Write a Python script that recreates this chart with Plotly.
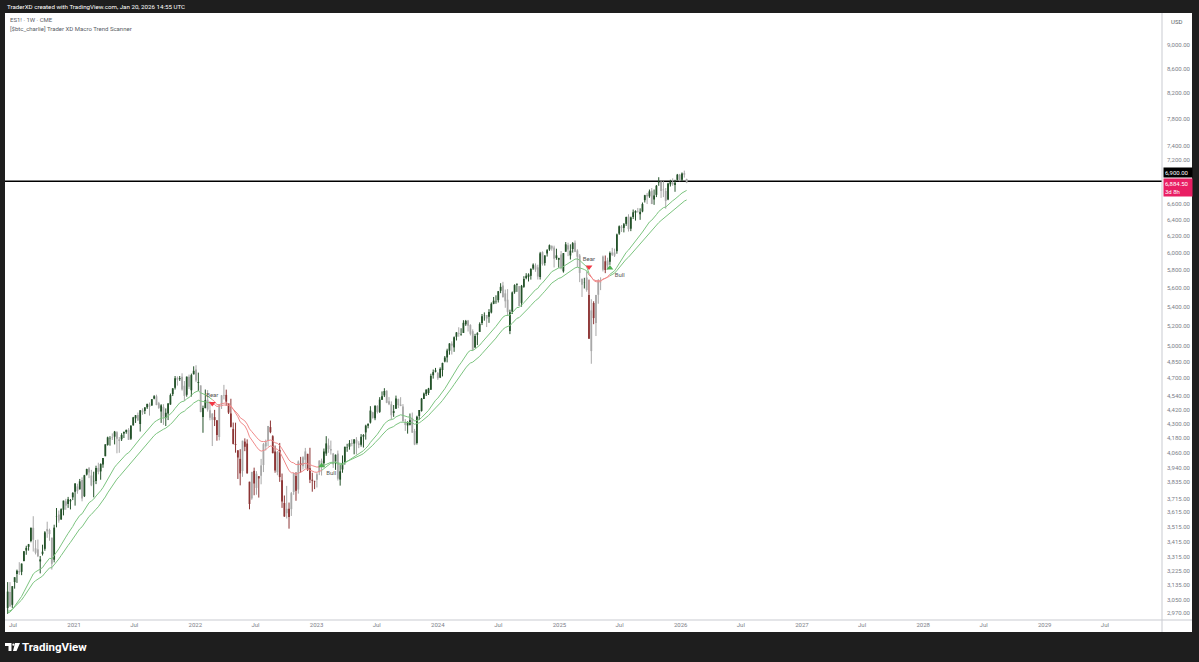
import math
import pandas as pd
import plotly.graph_objects as go

# ---------------- data (weekly ES1! bars) ----------------
first_week = "2020-06-15"

opens = [
    # 2020
    3000, 3095, 3018, 3155, 3205, 3224, 3219, 3288, 3356, 3380, 3418, 3508, 3370, 3363, 3285, 3334, 3367, 3500, 3493, 3441,
    3296, 3583, 3600, 3566, 3634, 3694, 3675, 3694, 3723,
    # 2021
    3764, 3803, 3781, 3851, 3731, 3892, 3940, 3885, 3842, 3844, 3943, 3916, 3969, 4034, 4124, 4179, 4185, 4191, 4228, 4169,
    4170, 4216, 4229, 4248, 4174, 4285, 4344, 4372, 4296, 4410, 4407, 4438, 4462, 4454, 4514, 4535, 4474, 4402, 4442, 4348,
    4385, 4463, 4554, 4610, 4701, 4689, 4712, 4629, 4548, 4710, 4588, 4733,
    # 2022
    4778, 4655, 4632, 4356, 4431, 4505, 4412, 4332, 4354, 4327, 4188, 4462, 4541, 4547, 4474, 4385, 4255, 4130, 4081, 4013,
    3919, 4151, 4135, 3838, 3715, 3920, 3792, 3880, 3883, 3965, 4112, 4155, 4270, 4195, 4071, 3910, 4084, 3849, 3682, 3609,
    3640, 3638, 3762, 3881, 3780, 3978, 3956, 4006, 4053, 3940, 3853, 3843,
    # 2023
    3853, 3910, 3999, 3979, 4055, 4120, 4091, 4055, 3992, 4055, 3854, 3931, 3983, 4102, 4110, 4140, 4135, 4166, 4136, 4126,
    4191, 4226, 4282, 4308, 4396, 4344, 4450, 4399, 4505, 4543, 4584, 4492, 4464, 4389, 4426, 4510, 4462, 4445, 4310, 4284,
    4289, 4343, 4238, 4140, 4364, 4407, 4511, 4554, 4564, 4593, 4725, 4758,
    # 2024
    4745, 4703, 4773, 4853, 4892, 4957, 5026, 4989, 5094, 5130, 5111, 5132, 5219, 5258, 5211, 5149, 4988, 5114, 5142, 5233,
    5305, 5315, 5297, 5341, 5432, 5460, 5471, 5572, 5630, 5544, 5476, 5151, 5350, 5557, 5637, 5623, 5442, 5615, 5711, 5726,
    5737, 5820, 5855, 5833, 5724, 6008, 5883, 5993, 6040, 6083, 6063, 5940, 5920,
    # 2025
    5982, 5788, 6014, 6090, 5970, 6046, 6121, 6027, 5969, 5705, 5666, 5718, 5527, 4953, 5441, 5232, 5529, 5659, 5807, 5902,
    5855, 5897, 6005, 6004, 6020, 6230, 6315, 6300, 6350, 6440, 6290, 6435, 6490, 6505, 6470, 6505, 6650, 6720, 6700, 6775,
    6660, 6720, 6880, 6890, 6790, 6770, 6660, 6860, 6880, 6850, 6920, 6990,
    # 2026
    6920, 7010, 6930,
]

highs = [
    # 2020
    3155, 3155, 3130, 3185, 3233, 3280, 3272, 3352, 3387, 3399, 3509, 3588, 3425, 3428, 3320, 3394, 3485, 3550, 3502, 3441,
    3529, 3646, 3628, 3644, 3699, 3712, 3726, 3711, 3760,
    # 2021
    3827, 3823, 3859, 3871, 3890, 3937, 3950, 3928, 3914, 3960, 3983, 3978, 4020, 4129, 4191, 4195, 4218, 4238, 4236, 4188,
    4219, 4234, 4249, 4261, 4286, 4356, 4372, 4393, 4415, 4429, 4440, 4469, 4480, 4510, 4545, 4549, 4486, 4465, 4465, 4429,
    4475, 4559, 4608, 4718, 4714, 4718, 4743, 4672, 4713, 4731, 4740, 4808,
    # 2022
    4818, 4749, 4632, 4453, 4595, 4590, 4490, 4385, 4416, 4327, 4465, 4546, 4637, 4594, 4471, 4513, 4308, 4307, 4081, 4090,
    4158, 4177, 4169, 3838, 3913, 3945, 3918, 3880, 4013, 4140, 4167, 4280, 4325, 4203, 4119, 4076, 4140, 3900, 3736, 3807,
    3685, 3762, 3905, 3911, 4001, 4029, 4034, 4100, 4053, 4101, 3906, 3846,
    # 2023
    3906, 4003, 4015, 4095, 4195, 4176, 4159, 4060, 4048, 4079, 3965, 4040, 4110, 4133, 4163, 4170, 4170, 4187, 4154, 4212,
    4212, 4290, 4300, 4448, 4400, 4458, 4456, 4527, 4578, 4607, 4588, 4527, 4490, 4458, 4541, 4514, 4527, 4466, 4338, 4319,
    4385, 4393, 4255, 4366, 4415, 4520, 4568, 4595, 4610, 4739, 4778, 4793,
    # 2024
    4755, 4798, 4842, 4906, 4976, 5030, 5048, 5097, 5140, 5189, 5179, 5261, 5264, 5264, 5220, 5168, 5123, 5139, 5239, 5325,
    5342, 5315, 5376, 5447, 5505, 5523, 5570, 5655, 5670, 5585, 5590, 5370, 5564, 5643, 5651, 5623, 5636, 5733, 5767, 5765,
    5822, 5878, 5878, 5863, 6012, 6018, 5973, 6044, 6099, 6088, 6085, 6049, 5941,
    # 2025
    6022, 5998, 6128, 6120, 6101, 6128, 6147, 6043, 5987, 5705, 5715, 5786, 5695, 5481, 5459, 5528, 5700, 5720, 5969, 5969,
    5944, 6016, 6059, 6050, 6230, 6330, 6335, 6360, 6440, 6470, 6440, 6530, 6520, 6550, 6545, 6620, 6720, 6745, 6790, 6810,
    6790, 6850, 6955, 6905, 6900, 6810, 6880, 6920, 6940, 6920, 7000, 7000,
    # 2026
    7020, 7045, 6935,
]

lows = [
    # 2020
    2965, 3005, 3000, 3115, 3150, 3200, 3198, 3285, 3328, 3355, 3410, 3349, 3330, 3313, 3209, 3323, 3354, 3440, 3420, 3233,
    3279, 3511, 3543, 3562, 3594, 3633, 3647, 3636, 3703,
    # 2021
    3663, 3749, 3781, 3694, 3725, 3885, 3865, 3805, 3723, 3820, 3894, 3853, 3944, 4034, 4118, 4118, 4164, 4128, 4057, 4061,
    4156, 4180, 4215, 4165, 4164, 4282, 4305, 4321, 4233, 4374, 4380, 4424, 4367, 4451, 4508, 4456, 4424, 4305, 4289, 4279,
    4329, 4460, 4537, 4595, 4630, 4673, 4585, 4495, 4531, 4600, 4532, 4733,
    # 2022
    4662, 4582, 4395, 4223, 4430, 4401, 4327, 4115, 4279, 4158, 4161, 4424, 4507, 4451, 4381, 4267, 4128, 4062, 3859, 3811,
    3875, 4074, 3900, 3637, 3705, 3738, 3742, 3721, 3819, 3911, 4080, 4113, 4219, 4057, 3906, 3887, 3837, 3647, 3584, 3572,
    3502, 3590, 3741, 3698, 3750, 3906, 3930, 3939, 3919, 3828, 3764, 3783,
    # 2023
    3795, 3888, 3885, 3949, 4037, 4061, 4047, 3943, 3928, 3847, 3809, 3906, 3968, 4069, 4086, 4113, 4049, 4048, 4098, 4110,
    4103, 4167, 4260, 4300, 4341, 4328, 4385, 4390, 4502, 4528, 4474, 4457, 4335, 4356, 4425, 4431, 4448, 4317, 4238, 4216,
    4284, 4223, 4122, 4127, 4329, 4401, 4511, 4537, 4546, 4593, 4694, 4751,
    # 2024
    4682, 4699, 4714, 4845, 4845, 4918, 4920, 4946, 5057, 5094, 5104, 5131, 5203, 5146, 5107, 4953, 4985, 5011, 5142, 5211,
    5256, 5191, 5234, 5331, 5428, 5433, 5446, 5546, 5497, 5390, 5306, 5120, 5325, 5540, 5560, 5406, 5402, 5604, 5698, 5674,
    5695, 5805, 5782, 5696, 5696, 5853, 5853, 5957, 6024, 6026, 5832, 5920, 5829,
    # 2025
    5809, 5773, 6014, 5962, 5923, 6003, 6009, 5837, 5667, 5505, 5597, 5562, 5074, 4832, 5220, 5101, 5433, 5579, 5786, 5767,
    5807, 5861, 5963, 5952, 5990, 6215, 6250, 6245, 6325, 6255, 6260, 6410, 6390, 6490, 6400, 6495, 6620, 6600, 6680, 6600,
    6590, 6690, 6840, 6680, 6690, 6540, 6650, 6830, 6840, 6760, 6910, 6900,
    # 2026
    6900, 6950, 6875,
]

closes = [
    # 2020
    3097, 3009, 3130, 3185, 3225, 3215, 3271, 3351, 3373, 3397, 3508, 3427, 3341, 3319, 3298, 3348, 3477, 3484, 3465, 3270,
    3509, 3585, 3558, 3638, 3699, 3663, 3709, 3703, 3756,
    # 2021
    3825, 3768, 3841, 3714, 3887, 3934, 3907, 3811, 3842, 3943, 3913, 3974, 4020, 4129, 4185, 4180, 4181, 4232, 4174, 4156,
    4204, 4230, 4247, 4166, 4281, 4352, 4370, 4327, 4412, 4395, 4437, 4468, 4442, 4509, 4535, 4458, 4433, 4455, 4357, 4391,
    4471, 4545, 4605, 4697, 4683, 4698, 4595, 4538, 4712, 4620, 4726, 4766,
    # 2022
    4677, 4663, 4398, 4432, 4501, 4419, 4349, 4385, 4329, 4204, 4463, 4543, 4546, 4488, 4393, 4272, 4132, 4123, 4024, 3901,
    4158, 4109, 3901, 3675, 3912, 3825, 3899, 3863, 3962, 4130, 4145, 4280, 4228, 4058, 3924, 4067, 3873, 3693, 3586, 3640,
    3583, 3753, 3901, 3771, 3993, 3965, 4026, 4072, 3934, 3852, 3845, 3840,
    # 2023
    3895, 3999, 3973, 4071, 4136, 4090, 4079, 3970, 4045, 3861, 3917, 3971, 4109, 4105, 4138, 4133, 4169, 4136, 4124, 4191,
    4205, 4282, 4299, 4410, 4348, 4450, 4399, 4505, 4536, 4582, 4478, 4464, 4370, 4406, 4516, 4457, 4450, 4320, 4288, 4308,
    4327, 4224, 4127, 4358, 4415, 4514, 4559, 4595, 4604, 4719, 4754, 4770,
    # 2024
    4697, 4784, 4840, 4891, 4959, 5027, 5006, 5089, 5137, 5124, 5117, 5234, 5254, 5204, 5123, 4967, 5100, 5128, 5223, 5303,
    5305, 5278, 5347, 5432, 5465, 5460, 5567, 5615, 5505, 5459, 5347, 5344, 5554, 5634, 5648, 5408, 5626, 5702, 5738, 5751,
    5815, 5864, 5808, 5729, 5995, 5870, 5969, 6032, 6090, 6051, 5931, 5971, 5942,
    # 2025
    5827, 5997, 6101, 6041, 6026, 6115, 6013, 5955, 5770, 5639, 5667, 5581, 5074, 5363, 5283, 5525, 5687, 5660, 5958, 5803,
    5912, 6000, 5977, 5968, 6220, 6320, 6300, 6345, 6435, 6285, 6430, 6495, 6510, 6500, 6500, 6600, 6715, 6700, 6765, 6600,
    6710, 6840, 6885, 6770, 6780, 6640, 6870, 6890, 6860, 6880, 6990, 6910,
    # 2026
    7005, 6990, 6884.5,
]

# weekly closes before the visible window (Sep 2019 - Jun 2020), used only to seed the averages
warmup_closes = [
    2979, 3007, 2992, 2962, 2952, 2970, 2986, 3023, 3067, 3093, 3120, 3110, 3141, 3146, 3169, 3221, 3240,
    3235, 3265, 3330, 3295, 3226, 3328, 3380, 3338, 2954, 2972, 2711, 2305, 2541, 2489, 2790, 2875, 2837,
    2831, 2930, 2864, 2955, 3044, 3194, 3041,
]

fast_len = 20
slow_len = 30

bear_dates = ["2022-02-21", "2025-03-31"]
bear_prices = [4472, 5836]
bull_dates = ["2023-01-16", "2025-06-02"]
bull_prices = [3960, 5825]

level_price = 6900.0
last_price = 6884.50
countdown = "3d 8h"

y_ticks = [2970, 3050, 3135, 3225, 3315, 3415, 3515, 3615, 3715, 3835, 3940, 4060, 4180, 4300, 4420, 4540,
           4700, 4850, 5000, 5200, 5400, 5600, 5800, 6000, 6200, 6400, 6600, 7200, 7400, 7800, 8200, 8600, 9000]
x_tick_dates = ["2020-07-01", "2021-01-01", "2021-07-01", "2022-01-01", "2022-07-01", "2023-01-01", "2023-07-01",
                "2024-01-01", "2024-07-01", "2025-01-01", "2025-07-01", "2026-01-01", "2026-07-01", "2027-01-01",
                "2027-07-01", "2028-01-01", "2028-07-01", "2029-01-01", "2029-07-01"]
x_tick_labels = ["Jul", "2021", "Jul", "2022", "Jul", "2023", "Jul", "2024", "Jul", "2025", "Jul", "2026", "Jul",
                 "2027", "Jul", "2028", "Jul", "2029", "Jul"]
x_range = ["2020-06-07", "2029-12-20"]
y_range = [2930, 9584]

# ---------------- styling ----------------
W, H = 1199, 662
PL, PR, PT, PB = 5, 1162, 13, 620          # plot area in pixels
FONT = "Roboto, Arial, sans-serif"
AX_COL = "#7b7e88"
GREEN_BODY = "#24522a"
RED_BODY = "#8c3434"
GRAY_BODY = "#a8a8a8"
GREEN_LINE = "#7cc47f"
RED_LINE = "#f08a8a"


def px(x):
    return (x - PL) / (PR - PL)


def py(y):
    return (PB - y) / (PB - PT)


n = len(closes)
assert len(opens) == len(highs) == len(lows) == n
weeks = pd.date_range(first_week, periods=n, freq="W-MON")

series = pd.Series(list(warmup_closes) + list(closes), dtype=float)
ema_fast = series.ewm(span=fast_len, adjust=False).mean().iloc[-n:].tolist()
ema_slow = series.ewm(span=slow_len, adjust=False).mean().iloc[-n:].tolist()

bear = [False] * n
for bd, ud in zip(bear_dates, bull_dates):
    b0, b1 = pd.Timestamp(bd), pd.Timestamp(ud)
    for i, d in enumerate(weeks):
        if b0 <= d < b1:
            bear[i] = True

fig = go.Figure()

# horizontal price level across the whole chart
fig.add_trace(go.Scatter(x=x_range, y=[level_price, level_price], mode="lines",
                         line=dict(color="#000000", width=1.5), hoverinfo="skip", cliponaxis=False))


def add_candles(idx, color):
    wx, wy, bx, by = [], [], [], []
    for i in idx:
        d = weeks[i]
        wx += [d, d, None]
        wy += [lows[i], highs[i], None]
        o, c = opens[i], closes[i]
        if abs(o - c) < 2:
            c = o + 2
        bx += [d, d, None]
        by += [o, c, None]
    fig.add_trace(go.Scatter(x=wx, y=wy, mode="lines", line=dict(color=color, width=1),
                             hoverinfo="skip", connectgaps=False))
    fig.add_trace(go.Scatter(x=bx, y=by, mode="lines", line=dict(color=color, width=1.8),
                             hoverinfo="skip", connectgaps=False))


groups = {
    "bull_up": ([i for i in range(n) if not bear[i] and closes[i] >= opens[i]], GREEN_BODY),
    "bull_dn": ([i for i in range(n) if not bear[i] and closes[i] < opens[i]], GRAY_BODY),
    "bear_dn": ([i for i in range(n) if bear[i] and closes[i] < opens[i]], RED_BODY),
    "bear_up": ([i for i in range(n) if bear[i] and closes[i] >= opens[i]], GRAY_BODY),
}
for idx, col in groups.values():
    add_candles(idx, col)


def regime_line(vals, want_bear):
    out = []
    for i in range(n):
        on = bear[i] == want_bear or (i > 0 and bear[i - 1] == want_bear)
        out.append(vals[i] if on else None)
    return out


for vals in (ema_slow, ema_fast):
    fig.add_trace(go.Scatter(x=weeks, y=regime_line(vals, False), mode="lines",
                             line=dict(color=GREEN_LINE, width=1), hoverinfo="skip", connectgaps=False))
    fig.add_trace(go.Scatter(x=weeks, y=regime_line(vals, True), mode="lines",
                             line=dict(color=RED_LINE, width=1), hoverinfo="skip", connectgaps=False))

# signals
fig.add_trace(go.Scatter(x=bear_dates, y=bear_prices, mode="markers+text", text=["Bear"] * len(bear_dates),
                         textposition="top center", textfont=dict(size=6, color="#555555", family=FONT),
                         marker=dict(symbol="triangle-down", size=6, color="#f23645"), hoverinfo="skip"))
fig.add_trace(go.Scatter(x=bull_dates, y=bull_prices, mode="markers+text", text=["Bull"] * len(bull_dates),
                         textposition="bottom right", textfont=dict(size=6, color="#555555", family=FONT),
                         marker=dict(symbol="triangle-up", size=6, color="#4caf50"), hoverinfo="skip"))

fig.update_layout(
    width=W, height=H,
    margin=dict(l=PL, r=W - PR, t=PT, b=H - PB, autoexpand=False),
    paper_bgcolor="#1e1e1e", plot_bgcolor="#ffffff",
    showlegend=False,
    font=dict(family=FONT, size=6, color=AX_COL),
    xaxis=dict(type="date", range=x_range, showgrid=False, zeroline=False,
               showline=False, ticks="", tickvals=x_tick_dates, ticktext=x_tick_labels,
               tickfont=dict(size=6, color=AX_COL, family=FONT), automargin=False, fixedrange=True),
    yaxis=dict(type="log", side="right", range=[math.log10(y_range[0]), math.log10(y_range[1])], showgrid=False,
               zeroline=False, showline=False, ticks="", tickvals=y_ticks,
               ticktext=[f"{v:,.2f}" for v in y_ticks], ticklabelstandoff=4,
               tickfont=dict(size=6, color=AX_COL, family=FONT), automargin=False, fixedrange=True),
)

shapes = [
    # white chart panel including the axis strips
    dict(type="rect", xref="paper", yref="paper", x0=px(5), x1=px(1192), y0=py(632), y1=py(13),
         fillcolor="#ffffff", line=dict(width=0), layer="below"),
    # axis separators
    dict(type="line", xref="paper", yref="paper", x0=1, x1=1, y0=py(632), y1=py(13),
         line=dict(color="#c9cbd1", width=1)),
    dict(type="line", xref="paper", yref="paper", x0=px(5), x1=px(1192), y0=0, y1=0,
         line=dict(color="#c9cbd1", width=1)),
    # TradingView logo glyph
    dict(type="path", xref="paper", yref="paper",
         path=f"M {px(5)},{py(643)} L {px(11.5)},{py(643)} L {px(11.5)},{py(651)} L {px(8.5)},{py(651)} "
              f"L {px(8.5)},{py(646)} L {px(5)},{py(646)} Z",
         fillcolor="#ffffff", line=dict(width=0)),
    dict(type="circle", xref="paper", yref="paper", x0=px(12.3), x1=px(14.5), y0=py(645.8), y1=py(643.6),
         fillcolor="#ffffff", line=dict(width=0)),
    dict(type="path", xref="paper", yref="paper",
         path=f"M {px(15)},{py(643)} L {px(20)},{py(643)} L {px(16.5)},{py(651)} L {px(13)},{py(651)} Z",
         fillcolor="#ffffff", line=dict(width=0)),
]
fig.update_layout(shapes=shapes)

annotations = [
    dict(text="TraderXD created with TradingView.com, Jan 20, 2026 14:55 UTC", xref="paper", yref="paper",
         x=px(5), y=py(6.5), xanchor="left", yanchor="middle", showarrow=False,
         font=dict(size=6.2, color="#ffffff", family=FONT)),
    dict(text="ES1! · 1W · CME", xref="paper", yref="paper", x=px(8), y=py(19), xanchor="left",
         yanchor="middle", showarrow=False, font=dict(size=6, color="#5a5d66", family=FONT)),
    dict(text="[$btc_charlie] Trader XD Macro Trend Scanner", xref="paper", yref="paper", x=px(8), y=py(28),
         xanchor="left", yanchor="middle", showarrow=False, font=dict(size=6, color="#5a5d66", family=FONT)),
    dict(text="USD", xref="paper", yref="paper", x=px(1169), y=py(21), xanchor="left", yanchor="middle",
         showarrow=False, font=dict(size=6, color="#5a5d66", family=FONT)),
    dict(text=f"{level_price:,.2f}", xref="paper", yref="y", x=px(1162.5), y=math.log10(level_price),
         yshift=3, xanchor="left", yanchor="bottom", showarrow=False, bgcolor="#000000", borderpad=1,
         width=26, align="left", font=dict(size=6, color="#ffffff", family=FONT)),
    dict(text=f"{last_price:,.2f}<br>{countdown}", xref="paper", yref="y", x=px(1162.5),
         y=math.log10(level_price), yshift=3, xanchor="left", yanchor="top", showarrow=False,
         bgcolor="#e91e63", borderpad=1, width=26, align="left",
         font=dict(size=6, color="#ffffff", family=FONT)),
    dict(text="<b>TradingView</b>", xref="paper", yref="paper", x=px(20), y=py(647), xanchor="left",
         yanchor="middle", showarrow=False, font=dict(size=11.5, color="#ffffff", family=FONT)),
]
fig.update_layout(annotations=annotations)

fig.write_html("out.html", config={"displayModeBar": False, "staticPlot": True},
               post_script="document.body.style.margin='0';document.body.style.overflow='hidden';")
